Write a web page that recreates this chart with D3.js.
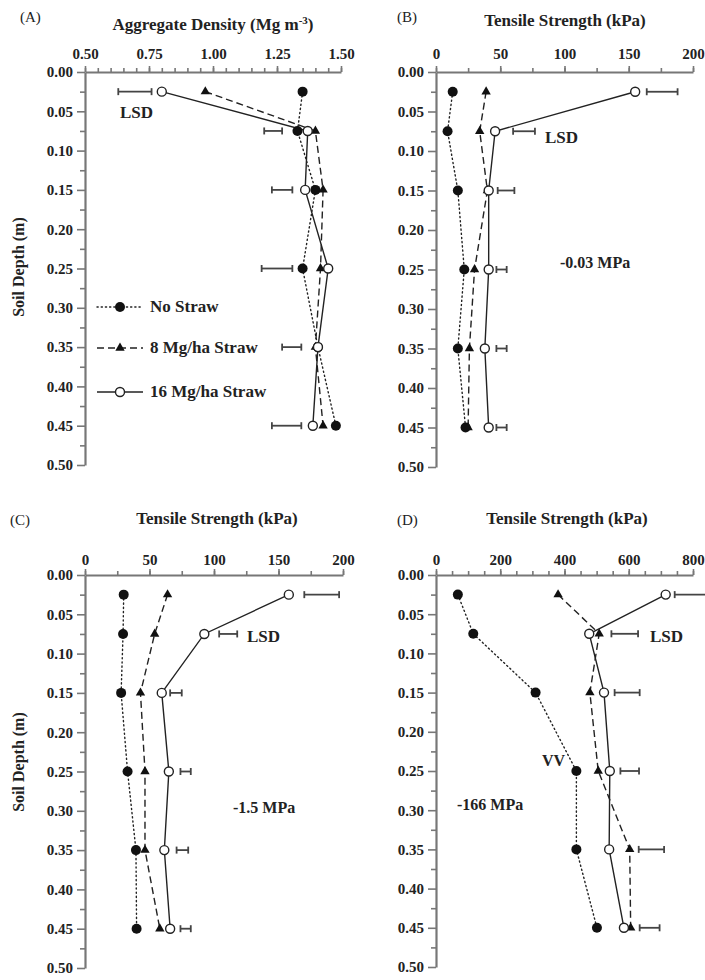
<!DOCTYPE html>
<html>
<head>
<meta charset="utf-8">
<script src="https://cdn.jsdelivr.net/npm/d3@7"></script>
<style>
  body { margin: 0; background: #fff; }
  svg text { font-family: "Liberation Serif", "Times New Roman", serif; fill: #222; }
</style>
</head>
<body>
<svg id="chart" width="705" height="980"></svg>
<script>
// sample depths (m) and series names
const depths = [0.025, 0.075, 0.15, 0.25, 0.35, 0.45];
const seriesNames = ["No Straw", "8 Mg/ha Straw", "16 Mg/ha Straw"];
const depthTicks = [0, 0.05, 0.10, 0.15, 0.20, 0.25, 0.30, 0.35, 0.40, 0.45, 0.50];

// (A) aggregate density, Mg m-3
const aNone = [1.35, 1.33, 1.40, 1.35, 1.41, 1.48];
const aEight = [0.97, 1.40, 1.43, 1.42, 1.40, 1.43];
const aSixteen = [0.80, 1.37, 1.36, 1.45, 1.41, 1.39];
const aLsdLo = [0.63, 1.20, 1.23, 1.19, 1.27, 1.23];
const aLsdHi = [0.76, 1.27, 1.31, 1.31, 1.345, 1.345];
const aTicks = [0.50, 0.75, 1.00, 1.25, 1.50];

// (B) tensile strength at -0.03 MPa, kPa
const bNone = [13, 9, 17, 22, 17, 23];
const bEight = [39, 34, 40, 30, 26, 25];
const bSixteen = [155, 46, 41, 41, 38, 41];
const bLsdLo = [164, 60, 48, 47, 47, 47];
const bLsdHi = [188, 77, 61, 55, 55, 55];
const bTicks = [0, 50, 100, 150, 200];

// (C) tensile strength at -1.5 MPa, kPa
const cNone = [30, 29.5, 28, 33, 39.5, 40];
const cEight = [64, 54, 43, 46.5, 46.5, 58];
const cSixteen = [158, 92.5, 59.5, 65, 61.5, 66];
const cLsdLo = [170, 104, 66, 74, 71, 74];
const cLsdHi = [197, 118, 75, 82, 80, 82];
const cTicks = [0, 50, 100, 150, 200];

// (D) tensile strength at -166 MPa, kPa
const dNone = [68, 116, 310, 437, 437, 501];
const dEight = [380, 508, 479, 505, 603, 606];
const dSixteen = [715, 477, 523, 541, 539, 585];
const dLsdLo = [743, 546, 556, 574, 631, 634];
const dLsdHi = [850, 629, 634, 632, 710, 696];
const dTicks = [0, 200, 400, 600, 800];

const panels = [
  { tag: "(A)", left: 85, right: 341, top: 72, bottom: 465, domain: [0.5, 1.5], ticks: aTicks, minorStep: 0.05, fmt: ".2f",
    series: [aNone, aEight, aSixteen], lo: aLsdLo, hi: aLsdHi, pad: 7,
    tagX: 20, tagY: 22, titleX: 213, titleY: 30, yLabel: 267 },
  { tag: "(B)", left: 436, right: 693, top: 72, bottom: 467, domain: [0, 200], ticks: bTicks, minorStep: 25, fmt: "d",
    series: [bNone, bEight, bSixteen], lo: bLsdLo, hi: bLsdHi, pad: 7,
    tagX: 397, tagY: 22, titleX: 565, titleY: 26 },
  { tag: "(C)", left: 85, right: 343, top: 575, bottom: 968, domain: [0, 200], ticks: cTicks, minorStep: 25, fmt: "d",
    series: [cNone, cEight, cSixteen], lo: cLsdLo, hi: cLsdHi, pad: 4,
    tagX: 10, tagY: 525, titleX: 217, titleY: 524, yLabel: 762 },
  { tag: "(D)", left: 436, right: 693, top: 575, bottom: 967, domain: [0, 800], ticks: dTicks, minorStep: 50, fmt: "d",
    series: [dNone, dEight, dSixteen], lo: dLsdLo, hi: dLsdHi, pad: 4,
    tagX: 397, tagY: 525, titleX: 567, titleY: 524 }
];

const ink = "#222";
const axisInk = "#777";
const dashes = ["1.2,3", "7,4", null];

const svg = d3.select("#chart");

function drawMarker(g, k, x, y) {
  if (k === 0) {
    g.append("circle").attr("cx", x).attr("cy", y).attr("r", 5).attr("fill", "#111");
  } else if (k === 1) {
    g.append("path").attr("d", d3.symbol(d3.symbolTriangle, 38)())
      .attr("transform", `translate(${x},${y})`).attr("fill", "#111");
  } else {
    g.append("circle").attr("cx", x).attr("cy", y).attr("r", 4.5)
      .attr("fill", "#fff").attr("stroke", ink).attr("stroke-width", 1.4);
  }
}

panels.forEach(p => {
  const x = d3.scaleLinear().domain(p.domain).range([p.left, p.right]);
  const y = d3.scaleLinear().domain([0, 0.5]).range([p.top, p.bottom]);
  const g = svg.append("g");

  // minor ticks
  const minorX = d3.range(p.domain[0], p.domain[1] + p.minorStep / 2, p.minorStep);
  g.append("g").attr("transform", `translate(0,${p.top})`)
    .call(d3.axisTop(x).tickValues(minorX).tickSize(4).tickSizeOuter(0).tickFormat(""))
    .call(a => a.select(".domain").remove());
  g.append("g").attr("transform", `translate(${p.left},0)`)
    .call(d3.axisLeft(y).tickValues(d3.range(0.025, 0.5, 0.05)).tickSize(5).tickFormat(""))
    .call(a => a.select(".domain").remove());

  // major axes
  const xa = g.append("g").attr("transform", `translate(0,${p.top})`)
    .call(d3.axisTop(x).tickValues(p.ticks).tickSize(6).tickSizeOuter(0).tickPadding(p.pad).tickFormat(d3.format(p.fmt)));
  const ya = g.append("g").attr("transform", `translate(${p.left},0)`)
    .call(d3.axisLeft(y).tickValues(depthTicks).tickSize(8).tickSizeOuter(0).tickPadding(4).tickFormat(d3.format(".2f")));
  [xa, ya].forEach(a => {
    a.selectAll("text").attr("font-size", 15).attr("font-weight", "bold").attr("fill", ink)
      .attr("font-family", "Liberation Serif, serif");
  });
  g.selectAll(".domain").attr("stroke", axisInk).attr("stroke-width", 2.2);
  g.selectAll(".tick line").attr("stroke", axisInk).attr("stroke-width", 1.6);

  // panel tag and title
  g.append("text").attr("x", p.tagX).attr("y", p.tagY).attr("font-size", 15).text(p.tag);
  const title = g.append("text").attr("x", p.titleX).attr("y", p.titleY)
    .attr("text-anchor", "middle").attr("font-size", 17).attr("font-weight", "bold");
  if (p.tag === "(A)") {
    title.append("tspan").text("Aggregate Density (Mg m");
    title.append("tspan").attr("font-size", 11).attr("dy", -6).text("-3");
    title.append("tspan").attr("dy", 6).text(")");
  } else {
    title.text("Tensile Strength (kPa)");
  }
  if (p.yLabel) {
    g.append("text").attr("transform", `translate(24,${p.yLabel}) rotate(-90)`)
      .attr("text-anchor", "middle").attr("font-size", 16).attr("font-weight", "bold")
      .text("Soil Depth (m)");
  }

  // LSD bars
  depths.forEach((d, i) => {
    const yy = y(d), x0 = x(p.lo[i]), x1 = x(p.hi[i]);
    const b = g.append("g").attr("stroke", "#444").attr("stroke-width", 1.8);
    b.append("line").attr("x1", x0).attr("x2", x1).attr("y1", yy).attr("y2", yy);
    b.append("line").attr("x1", x0).attr("x2", x0).attr("y1", yy - 3.5).attr("y2", yy + 3.5);
    b.append("line").attr("x1", x1).attr("x2", x1).attr("y1", yy - 3.5).attr("y2", yy + 3.5);
  });

  // series lines then markers
  const line = d3.line().x(d => x(d[1])).y(d => y(d[0]));
  p.series.forEach((vals, k) => {
    g.append("path").datum(depths.map((d, i) => [d, vals[i]]))
      .attr("d", line).attr("fill", "none").attr("stroke", ink).attr("stroke-width", 1.4)
      .attr("stroke-dasharray", dashes[k]).attr("stroke-linecap", k === 0 ? "round" : "butt");
  });
  p.series.forEach((vals, k) => {
    depths.forEach((d, i) => drawMarker(g, k, x(vals[i]), y(d)));
  });
});

// legend in panel A
const legend = svg.append("g");
[307, 348, 392].forEach((ly, k) => {
  legend.append("line").attr("x1", 97).attr("x2", 143).attr("y1", ly).attr("y2", ly)
    .attr("stroke", ink).attr("stroke-width", 1.4).attr("stroke-dasharray", dashes[k])
    .attr("stroke-linecap", k === 0 ? "round" : "butt");
  drawMarker(legend, k, 120, ly);
  legend.append("text").attr("x", 150).attr("y", ly + 5).attr("font-size", 17)
    .attr("font-weight", "bold").text(seriesNames[k]);
});

// annotations
const notes = [
  ["LSD", 120, 118], ["LSD", 545, 143], ["LSD", 247, 642], ["LSD", 650, 642],
  ["-0.03 MPa", 560, 268], ["-1.5 MPa", 233, 813], ["-166 MPa", 457, 810], ["VV", 542, 766]
];
svg.append("g").selectAll("text").data(notes).join("text")
  .attr("x", d => d[1]).attr("y", d => d[2])
  .attr("font-size", d => d[0] === "LSD" ? 17 : 16).attr("font-weight", "bold")
  .text(d => d[0]);
</script>
</body>
</html>
